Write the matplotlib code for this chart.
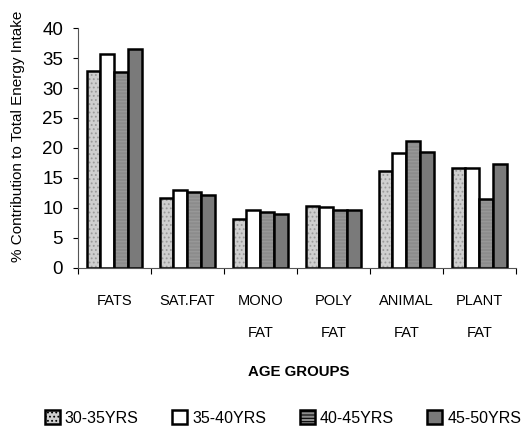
import matplotlib.pyplot as plt
import numpy as np
from matplotlib.patches import Patch

plt.rcParams['font.family'] = ['Liberation Sans', 'DejaVu Sans']
plt.rcParams['hatch.linewidth'] = 0.8

categories = ["FATS", "SAT.FAT", "MONO\nFAT", "POLY\nFAT", "ANIMAL\nFAT", "PLANT\nFAT"]
groups = ["30-35YRS", "35-40YRS", "40-45YRS", "45-50YRS"]
v_30_35 = [32.8, 11.6, 8.2, 10.4, 16.2, 16.6]
v_35_40 = [35.7, 13.0, 9.6, 10.2, 19.2, 16.7]
v_40_45 = [32.6, 12.7, 9.3, 9.6, 21.1, 11.5]
v_45_50 = [36.5, 12.2, 8.9, 9.6, 19.4, 17.3]
series = [v_30_35, v_35_40, v_40_45, v_45_50]

faces = ['#cfcfcf', '#ffffff', '#8c8c8c', '#7a7a7a']
hatches = ['....', '', '-----', '']

fig = plt.figure(figsize=(5.29, 4.32), dpi=100)
ax = fig.add_axes([0.147, 0.380, 0.828, 0.555])

x = np.arange(len(categories))
w = 0.19
for k, vals in enumerate(series):
    pos = x + (k - 1.5) * w
    # pattern fill first, black outline on top
    ax.bar(pos, vals, w, color=faces[k], hatch=hatches[k], edgecolor='#9a9a9a', linewidth=0)
    ax.bar(pos, vals, w, fill=False, edgecolor='black', linewidth=1.8)

ax.set_xlim(-0.5, len(categories) - 0.5)
ax.set_ylim(0, 40)
ax.set_yticks(np.arange(0, 41, 5))
ax.tick_params(axis='y', labelsize=13.5, length=3.6, direction='out', pad=7)
ax.set_xticks(np.arange(len(categories) + 1) - 0.5)
ax.set_xticklabels([])
ax.set_xticks(x, minor=True)
ax.set_xticklabels(categories, minor=True, fontsize=10.5, linespacing=2.6, va='top')
ax.tick_params(axis='x', which='major', length=4, direction='out')
ax.tick_params(axis='x', which='minor', length=0, pad=19)
ax.spines['top'].set_visible(False)
ax.spines['right'].set_visible(False)
ax.spines['left'].set_color('#555555')
ax.spines['bottom'].set_color('#555555')

fig.text(0.034, 1 - 136 / 432, "% Contribution to Total Energy Intake",
         rotation=90, ha='center', va='center', fontsize=11)
fig.text(0.565, 1 - 372 / 432, "AGE GROUPS", ha='center', va='center',
         fontsize=10.8, fontweight='bold')

leg_handles = [Patch(facecolor=faces[k], hatch=hatches[k], edgecolor='black', linewidth=1.8)
               for k in range(4)]
fig.legend(leg_handles, groups, loc='center', bbox_to_anchor=(0.535, 1 - 418 / 432),
           ncol=4, frameon=False, fontsize=11.5, handlelength=0.95, handleheight=0.95,
           columnspacing=2.1, handletextpad=0.3)

fig.savefig("out.png", dpi=100)
